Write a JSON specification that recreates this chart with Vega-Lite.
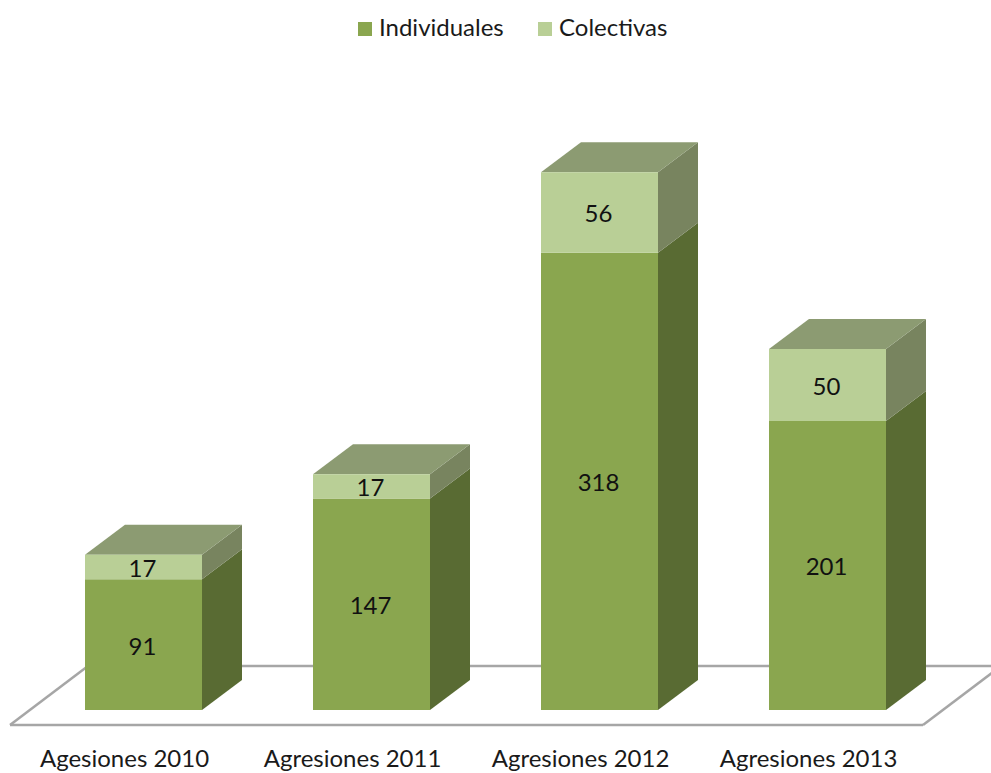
{
  "$schema": "https://vega.github.io/schema/vega-lite/v6.json",
  "width": 991,
  "height": 730,
  "padding": {"left": 0, "top": 0, "right": 0, "bottom": 43},
  "autosize": "none",
  "background": "white",
  "config": {"view": {"stroke": null}, "font": "Lato"},
  "datasets": {
    "agresiones": [
      {"anio": 2010, "tipo": "Individuales", "valor": 91},
      {"anio": 2010, "tipo": "Colectivas", "valor": 17},
      {"anio": 2011, "tipo": "Individuales", "valor": 147},
      {"anio": 2011, "tipo": "Colectivas", "valor": 17},
      {"anio": 2012, "tipo": "Individuales", "valor": 318},
      {"anio": 2012, "tipo": "Colectivas", "valor": 56},
      {"anio": 2013, "tipo": "Individuales", "valor": 201},
      {"anio": 2013, "tipo": "Colectivas", "valor": 50}
    ]
  },
  "data": {"name": "agresiones"},
  "transform": [
    {"stack": "valor", "groupby": ["anio"], "sort": [{"field": "tipo", "order": "descending"}], "as": ["base", "cima"]},
    {"calculate": "datum.anio - 0.2566", "as": "izq"},
    {"calculate": "datum.anio + 0.2566", "as": "der"},
    {"calculate": "(datum.base + datum.cima) / 2", "as": "medio"}
  ],
  "layer": [
    {
      "data": {"values": [{}]},
      "mark": {"type": "rule", "color": "#A6A6A6", "strokeWidth": 2.5, "clip": true},
      "encoding": {
        "x": {
          "datum": 2009.4145,
          "type": "quantitative",
          "scale": {"domain": [2009.3706, 2013.7171], "nice": false, "zero": false},
          "axis": {
            "title": null,
            "values": [2010, 2011, 2012, 2013],
            "domain": false,
            "ticks": false,
            "grid": false,
            "labelFontSize": 24,
            "labelColor": "#1a1a1a",
            "labelPadding": 29,
            "labelOffset": -19.5,
            "labelBaseline": "middle",
            "labelExpr": "datum.value == 2010 ? 'Agesiones 2010' : 'Agresiones ' + datum.value"
          }
        },
        "x2": {"datum": 2013.4189},
        "y": {
          "datum": -10.43,
          "type": "quantitative",
          "scale": {"domain": [-13.9, 493.7], "nice": false, "zero": false},
          "axis": null
        }
      }
    },
    {
      "data": {"values": [{}]},
      "mark": {"type": "rule", "color": "#A6A6A6", "strokeWidth": 2.5, "clip": true},
      "encoding": {
        "x": {"datum": 2009.7566, "type": "quantitative"},
        "x2": {"datum": 2013.761},
        "y": {"datum": 30.6, "type": "quantitative"}
      }
    },
    {
      "data": {"values": [{}]},
      "mark": {"type": "rule", "color": "#A6A6A6", "strokeWidth": 2.5, "clip": true},
      "encoding": {
        "x": {"datum": 2009.4145, "type": "quantitative"},
        "x2": {"datum": 2009.7566},
        "y": {"datum": -10.43, "type": "quantitative"},
        "y2": {"datum": 30.6}
      }
    },
    {
      "data": {"values": [{}]},
      "mark": {"type": "rule", "color": "#A6A6A6", "strokeWidth": 2.5, "clip": true},
      "encoding": {
        "x": {"datum": 2013.4189, "type": "quantitative"},
        "x2": {"datum": 2013.761},
        "y": {"datum": -10.43, "type": "quantitative"},
        "y2": {"datum": 30.6}
      }
    },
    {
      "transform": [
        {"filter": "datum.tipo == 'Individuales'"},
        {"calculate": "[0, 1]", "as": "t"},
        {"flatten": ["t"]},
        {"calculate": "datum.der + 0.1754 * datum.t", "as": "px"},
        {"calculate": "datum.base + 20.86 * datum.t", "as": "lo"},
        {"calculate": "datum.cima + 20.86 * datum.t", "as": "hi"}
      ],
      "mark": {"type": "area", "color": "#596B33", "orient": "vertical", "stroke": null},
      "encoding": {
        "x": {"field": "px", "type": "quantitative"},
        "y": {"field": "lo", "type": "quantitative"},
        "y2": {"field": "hi"},
        "detail": {"field": "anio"}
      }
    },
    {
      "transform": [
        {"filter": "datum.tipo == 'Colectivas'"},
        {"calculate": "[0, 1]", "as": "t"},
        {"flatten": ["t"]},
        {"calculate": "datum.der + 0.1754 * datum.t", "as": "px"},
        {"calculate": "datum.base + 20.86 * datum.t", "as": "lo"},
        {"calculate": "datum.cima + 20.86 * datum.t", "as": "hi"}
      ],
      "mark": {"type": "area", "color": "#78845F", "orient": "vertical", "stroke": null},
      "encoding": {
        "x": {"field": "px", "type": "quantitative"},
        "y": {"field": "lo", "type": "quantitative"},
        "y2": {"field": "hi"},
        "detail": {"field": "anio"}
      }
    },
    {
      "transform": [
        {"filter": "datum.tipo == 'Colectivas'"},
        {"calculate": "[0, 0.1754, 0.5132, 0.6886]", "as": "t"},
        {"flatten": ["t"]},
        {"calculate": "datum.izq + datum.t", "as": "px"},
        {"calculate": "datum.cima + 20.86 * max(0, (datum.t - 0.5132) / 0.1754)", "as": "lo"},
        {"calculate": "datum.cima + 20.86 * min(1, datum.t / 0.1754)", "as": "hi"}
      ],
      "mark": {"type": "area", "color": "#8C9B72", "orient": "vertical", "stroke": null},
      "encoding": {
        "x": {"field": "px", "type": "quantitative"},
        "y": {"field": "lo", "type": "quantitative"},
        "y2": {"field": "hi"},
        "detail": {"field": "anio"}
      }
    },
    {
      "mark": {"type": "bar"},
      "encoding": {
        "x": {"field": "izq", "type": "quantitative"},
        "x2": {"field": "der"},
        "y": {"field": "base", "type": "quantitative"},
        "y2": {"field": "cima"},
        "color": {
          "field": "tipo",
          "type": "nominal",
          "scale": {"domain": ["Individuales", "Colectivas"], "range": ["#8AA64F", "#B9CF96"]},
          "legend": {
            "title": null,
            "orient": "none",
            "legendX": 353,
            "legendY": 17,
            "direction": "horizontal",
            "columns": 2,
            "symbolType": "square",
            "symbolSize": 196,
            "symbolStrokeWidth": 0,
            "labelFontSize": 24,
            "labelColor": "#1a1a1a",
            "labelOffset": 2,
            "columnPadding": 29
          }
        }
      }
    },
    {
      "mark": {"type": "text", "fontSize": 24, "color": "#111111", "baseline": "middle", "align": "center", "dy": 3, "dx": -1},
      "encoding": {
        "x": {"field": "anio", "type": "quantitative"},
        "y": {"field": "medio", "type": "quantitative"},
        "text": {"field": "valor", "type": "quantitative"}
      }
    }
  ]
}
